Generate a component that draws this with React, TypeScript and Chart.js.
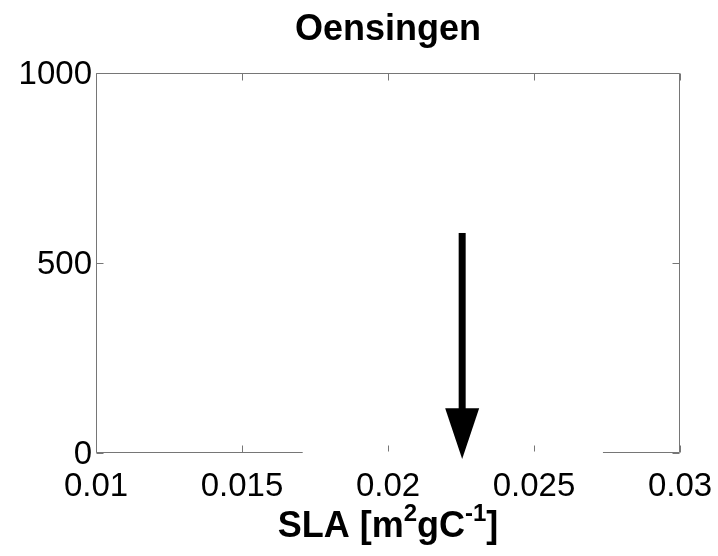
import React, { useEffect, useRef } from 'react';
import { Chart, registerables } from 'chart.js';

Chart.register(...registerables);

const chartTitle = 'Oensingen';
const xTickValues = [0.01, 0.015, 0.02, 0.025, 0.03];
const xTickLabels = ['0.01', '0.015', '0.02', '0.025', '0.03'];
const yTickValues = [0, 500, 1000];
const yTickLabels = ['0', '500', '1000'];
// x-axis title pieces: [text, isSuperscript]
const xTitleParts: [string, boolean][] = [
  ['SLA [m', false],
  ['2', true],
  ['gC', false],
  ['-1', true],
  [']', false],
];
// white (invisible) histogram bin of the SLA distribution
const histBinEdges = [0.01713, 0.02731];
const histCounts = [25];
// arrow marking the site SLA value
const arrowSLA = 0.02254;
const arrowTop = 579;
const arrowHeadBase = 118;
const arrowTip = -16;

const FONT = "'Liberation Sans', Arial, Helvetica, sans-serif";
const AXIS_COLOR = '#767676';
const TICK_LEN = 7;

const framePlugin = {
  id: 'frame',
  beforeDatasetsDraw(chart: any) {
    const { ctx, chartArea } = chart;
    const xs = chart.scales.x;
    const ys = chart.scales.y;
    const L = Math.round(chartArea.left) + 0.5;
    const R = Math.round(chartArea.right) - 0.5;
    const T = Math.round(chartArea.top) + 0.5;
    const B = Math.round(chartArea.bottom) - 0.5;
    ctx.save();
    ctx.strokeStyle = AXIS_COLOR;
    ctx.lineWidth = 1;
    ctx.beginPath();
    ctx.rect(L, T, R - L, B - T);
    for (const v of xTickValues) {
      const px = Math.round(xs.getPixelForValue(v)) + 0.5;
      ctx.moveTo(px, B);
      ctx.lineTo(px, B - TICK_LEN);
      ctx.moveTo(px, T);
      ctx.lineTo(px, T + TICK_LEN);
    }
    for (const v of yTickValues) {
      const py = Math.round(ys.getPixelForValue(v)) + 0.5;
      ctx.moveTo(L, py);
      ctx.lineTo(L + TICK_LEN, py);
      ctx.moveTo(R, py);
      ctx.lineTo(R - TICK_LEN, py);
    }
    ctx.stroke();
    ctx.restore();
  },
};

const arrowPlugin = {
  id: 'arrow',
  afterDatasetsDraw(chart: any) {
    const { ctx } = chart;
    const xs = chart.scales.x;
    const ys = chart.scales.y;
    const px = xs.getPixelForValue(arrowSLA);
    const yTop = ys.getPixelForValue(arrowTop);
    const yBase = ys.getPixelForValue(arrowHeadBase);
    const yTip = ys.getPixelForValue(arrowTip);
    const shaftW = 7;
    const headHalf = 17;
    ctx.save();
    ctx.fillStyle = '#000';
    ctx.fillRect(px - shaftW / 2, yTop, shaftW, yBase - yTop + 1);
    ctx.beginPath();
    ctx.moveTo(px - headHalf, yBase);
    ctx.lineTo(px + headHalf, yBase);
    ctx.lineTo(px, yTip);
    ctx.closePath();
    ctx.fill();
    ctx.restore();
  },
};

const xTitlePlugin = {
  id: 'xTitle',
  afterDraw(chart: any) {
    const { ctx, chartArea } = chart;
    const mainFont = `bold 36px ${FONT}`;
    const supFont = `bold 24px ${FONT}`;
    ctx.save();
    ctx.fillStyle = '#000';
    ctx.textBaseline = 'alphabetic';
    ctx.textAlign = 'left';
    let total = 0;
    const widths: number[] = [];
    for (const [t, sup] of xTitleParts) {
      ctx.font = sup ? supFont : mainFont;
      const w = ctx.measureText(t).width;
      widths.push(w);
      total += w;
    }
    const cx = (chartArea.left + chartArea.right) / 2;
    const baseline = chartArea.bottom + 84;
    let x = cx - total / 2;
    xTitleParts.forEach(([t, sup], i) => {
      ctx.font = sup ? supFont : mainFont;
      ctx.fillText(t, x, sup ? baseline - 16 : baseline);
      x += widths[i];
    });
    ctx.restore();
  },
};

export default function App() {
  const canvasRef = useRef<HTMLCanvasElement | null>(null);

  useEffect(() => {
    if (!canvasRef.current) return;
    const e0 = histBinEdges[0];
    const e1 = histBinEdges[1];
    const c = histCounts[0];
    const coverData = [
      { x: e0, y: 0 },
      { x: e0, y: c },
      { x: e1, y: c },
      { x: e1, y: 0 },
      { x: e0, y: 0 },
    ];
    const chart = new Chart(canvasRef.current, {
      type: 'line',
      data: {
        datasets: [
          {
            data: coverData,
            borderColor: '#ffffff',
            backgroundColor: '#ffffff',
            borderWidth: 3,
            fill: 'origin',
            pointRadius: 0,
            tension: 0,
            clip: false as any,
          },
        ],
      },
      plugins: [framePlugin, arrowPlugin, xTitlePlugin],
      options: {
        animation: false,
        responsive: true,
        maintainAspectRatio: false,
        layout: { padding: { left: 0, right: 38, top: 0, bottom: 0 } },
        plugins: {
          legend: { display: false },
          tooltip: { enabled: false },
          title: {
            display: true,
            fullSize: false,
            text: chartTitle,
            color: '#000',
            font: { family: FONT, size: 36, weight: 'bold', lineHeight: 1.2 },
            padding: { top: 8, bottom: 21.8 },
          },
        },
        scales: {
          x: {
            type: 'linear',
            min: 0.01,
            max: 0.03,
            grid: { display: false, drawTicks: false },
            border: { display: false },
            afterBuildTicks: (scale: any) => {
              scale.ticks = xTickValues.map((v) => ({ value: v }));
            },
            afterFit: (scale: any) => {
              scale.height = 103;
              scale.paddingLeft = 0;
              scale.paddingRight = 0;
            },
            ticks: {
              color: '#000',
              font: { family: FONT, size: 33 },
              padding: 14,
              autoSkip: false,
              maxRotation: 0,
              callback: (_v: any, i: number) => xTickLabels[i],
            },
          },
          y: {
            type: 'linear',
            min: 0,
            max: 1000,
            grid: { display: false, drawTicks: false },
            border: { display: false },
            afterBuildTicks: (scale: any) => {
              scale.ticks = yTickValues.map((v) => ({ value: v }));
            },
            afterFit: (scale: any) => {
              scale.width = 96;
              scale.paddingTop = 0;
              scale.paddingBottom = 0;
            },
            ticks: {
              color: '#000',
              font: { family: FONT, size: 33 },
              padding: 4,
              labelOffset: 2,
              autoSkip: false,
              callback: (_v: any, i: number) => yTickLabels[i],
            },
          },
        },
      } as any,
    });
    return () => chart.destroy();
  }, []);

  return (
    <div style={{ position: 'fixed', left: 0, top: 0, width: 718, height: 556, background: '#fff' }}>
      <canvas ref={canvasRef} />
    </div>
  );
}
